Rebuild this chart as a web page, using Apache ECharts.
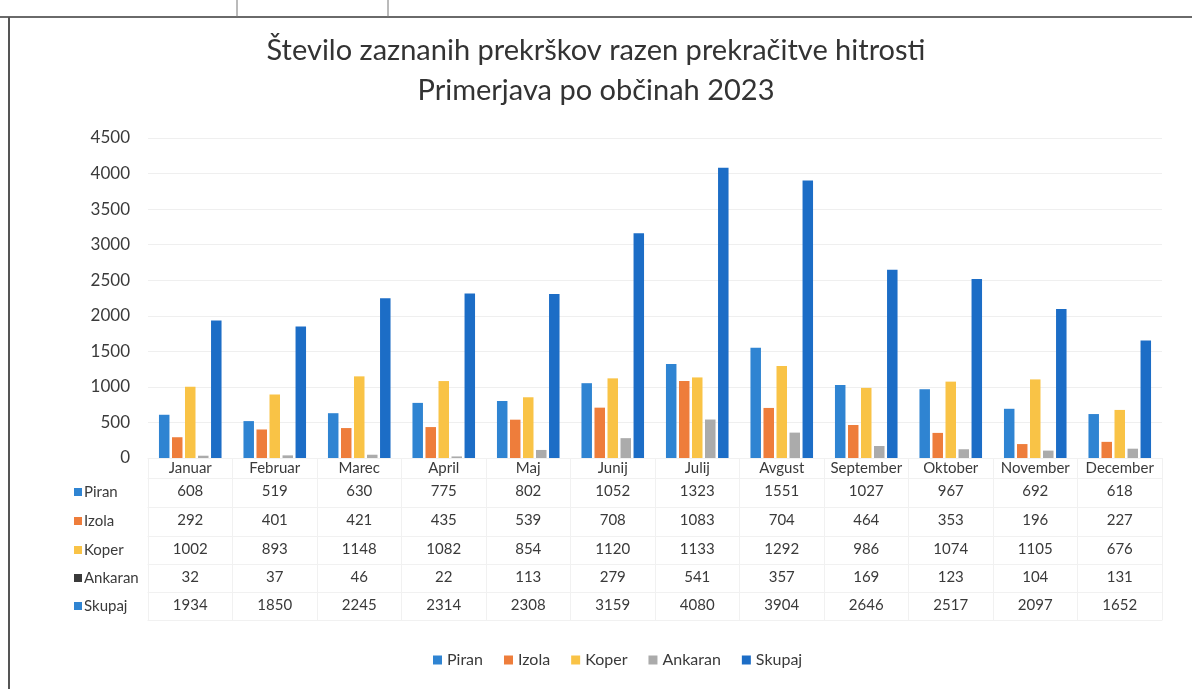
<!DOCTYPE html>
<html>
<head>
<meta charset="utf-8">
<script src="https://cdn.jsdelivr.net/npm/echarts@6/dist/echarts.min.js"></script>
<style>
html,body{margin:0;padding:0;background:#fff;}
#c{width:1192px;height:689px;}
</style>
</head>
<body>
<div id="c"></div>
<script>
// ---- data ----
const categories = ['Januar','Februar','Marec','April','Maj','Junij','Julij','Avgust','September','Oktober','November','December'];
const seriesNames = ['Piran','Izola','Koper','Ankaran','Skupaj'];
const piran   = [608, 519, 630, 775, 802, 1052, 1323, 1551, 1027, 967, 692, 618];
const izola   = [292, 401, 421, 435, 539, 708, 1083, 704, 464, 353, 196, 227];
const koper   = [1002, 893, 1148, 1082, 854, 1120, 1133, 1292, 986, 1074, 1105, 676];
const ankaran = [32, 37, 46, 22, 113, 279, 541, 357, 169, 123, 104, 131];
const skupaj  = [1934, 1850, 2245, 2314, 2308, 3159, 4080, 3904, 2646, 2517, 2097, 1652];
const yTicks = [0, 500, 1000, 1500, 2000, 2500, 3000, 3500, 4000, 4500];
const titleLines = ['Število zaznanih prekrškov razen prekračitve hitrosti', 'Primerjava po občinah 2023'];

// ---- styling ----
const values = [piran, izola, koper, ankaran, skupaj];
const colors = ['#2F84D2', '#EE7D3B', '#F9C346', '#ABABAB', '#1C6DC6'];
const tableKeyColors = ['#2F84D2', '#EE7D3B', '#F9C346', '#3a3a3a', '#2F84D2'];
const FONT = 'Lato, "Noto Sans", sans-serif';
const TXT = '#3a3a3a';
const GRID_TOP = 138, GRID_BOTTOM_Y = 458, GRID_LEFT = 148, GRID_RIGHT = 1162;
const rowCenters = [492, 521, 550, 578, 606];
const LINE = '#f1f1f1';

const chart = echarts.init(document.getElementById('c'), null, {renderer: 'canvas'});

const xAxes = [{
  type: 'category', data: categories, gridIndex: 0, position: 'bottom',
  axisLine: {show: true, lineStyle: {color: LINE, width: 1}},
  axisTick: {show: true, length: 162, lineStyle: {color: LINE}},
  axisLabel: {margin: 3, fontFamily: FONT, fontSize: 15, color: TXT, interval: 0}
}];
values.forEach((arr, i) => {
  const margin = 6;
  xAxes.push({
    type: 'category', data: categories, gridIndex: 0, position: 'bottom',
    offset: rowCenters[i] - GRID_BOTTOM_Y - 8 - margin,
    axisLine: {show: true, lineStyle: {color: LINE}},
    axisTick: {show: false},
    axisLabel: {margin: margin, fontFamily: FONT, fontSize: 15, color: TXT, interval: 0,
      formatter: (v, idx) => String(arr[idx])}
  });
});
xAxes.push({
  type: 'category', data: categories, gridIndex: 0, position: 'bottom', offset: 162,
  axisLine: {show: true, lineStyle: {color: LINE}}, axisTick: {show: false}, axisLabel: {show: false}
});

const graphics = [
  {type: 'line', shape: {x1: 0, y1: 17, x2: 1192, y2: 17}, style: {stroke: '#6a6a6a', lineWidth: 2}},
  {type: 'line', shape: {x1: 9, y1: 17, x2: 9, y2: 689}, style: {stroke: '#555', lineWidth: 2}},
  {type: 'line', shape: {x1: 237, y1: 0, x2: 237, y2: 17}, style: {stroke: '#777', lineWidth: 1}},
  {type: 'line', shape: {x1: 388, y1: 0, x2: 388, y2: 17}, style: {stroke: '#777', lineWidth: 1}}
];
seriesNames.forEach((n, i) => {
  graphics.push({type: 'rect', shape: {x: 74, y: rowCenters[i] - 4, width: 8, height: 8}, style: {fill: tableKeyColors[i]}});
  graphics.push({type: 'text', x: 84, y: rowCenters[i], style: {text: n, font: '15px ' + FONT, fill: TXT, verticalAlign: 'middle', align: 'left'}});
});

const option = {
  backgroundColor: '#fff',
  animation: false,
  title: {
    text: titleLines.join('\n'), left: 'center', top: 26,
    textStyle: {fontFamily: FONT, fontSize: 29, fontWeight: 'normal', color: '#333', lineHeight: 40}
  },
  legend: {
    data: seriesNames, top: 647, left: 428, itemWidth: 9, itemHeight: 9, itemGap: 21,
    icon: 'rect',
    textStyle: {fontFamily: FONT, fontSize: 16, color: TXT}
  },
  grid: {left: GRID_LEFT, right: 1192 - GRID_RIGHT, top: GRID_TOP, bottom: 689 - GRID_BOTTOM_Y, containLabel: false},
  xAxis: xAxes,
  yAxis: {
    type: 'value', min: yTicks[0], max: yTicks[yTicks.length - 1], interval: yTicks[1] - yTicks[0],
    axisLine: {show: false}, axisTick: {show: false},
    axisLabel: {margin: 18, fontFamily: FONT, fontSize: 17, color: TXT, formatter: v => String(v)},
    splitLine: {lineStyle: {color: '#efefef'}}
  },
  series: seriesNames.map((n, i) => ({
    name: n, type: 'bar', data: values[i], xAxisIndex: 0,
    barWidth: 10.5, barGap: '24%', barCategoryGap: '25%',
    itemStyle: {color: colors[i]}
  })),
  graphic: graphics
};
chart.setOption(option);
</script>
</body>
</html>
